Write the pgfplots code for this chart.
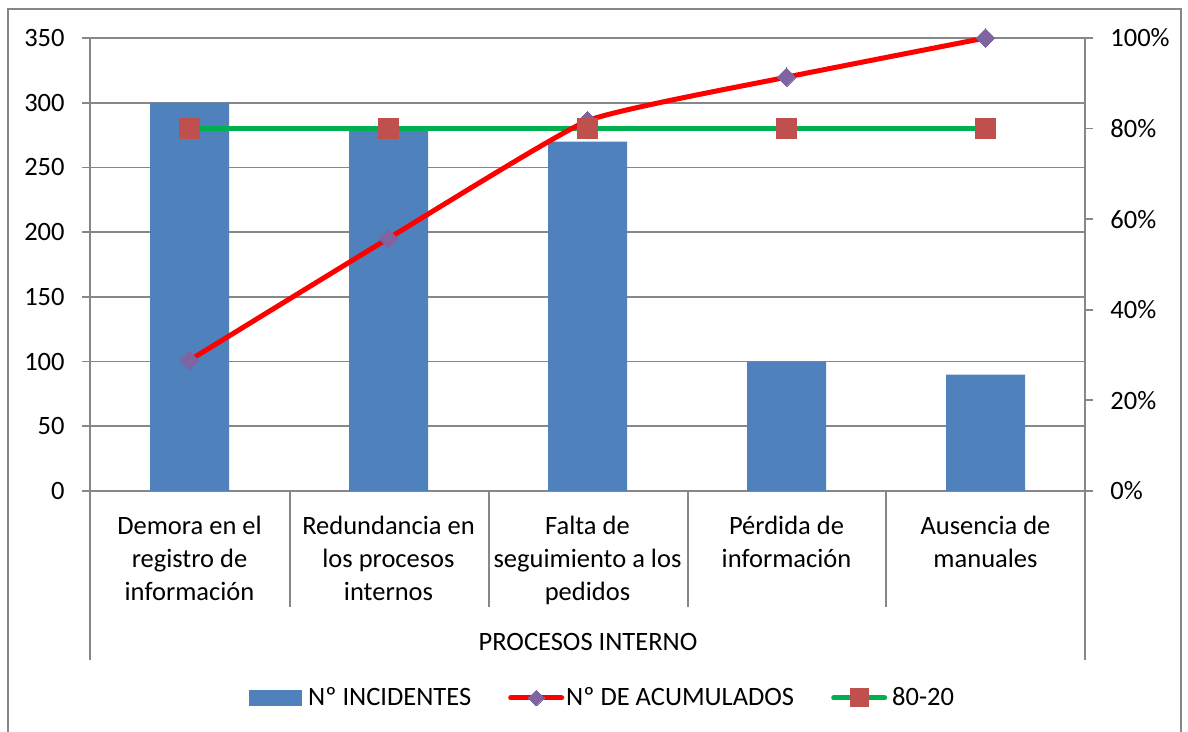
\documentclass[border=0pt]{standalone}
\usepackage{pgfplots}
\pgfplotsset{compat=1.18}
\usepackage{fontspec}
\setmainfont{Carlito}
\definecolor{barblue}{HTML}{4F81BD}
\definecolor{mkred}{HTML}{C0504D}
\definecolor{mkpurple}{HTML}{8064A2}
\definecolor{lngreen}{HTML}{00B050}
\definecolor{gridgray}{HTML}{878787}
\newcommand\cf{\fontsize{13.25}{16.5}\selectfont}
\pgfplotsset{
  linelegend/.style={legend image code/.code={\draw[mark repeat=2,mark phase=2,##1] plot coordinates {(1.25pt,0pt) (14pt,0pt) (26.75pt,0pt)};}},
  barlegend/.style={legend image code/.code={\fill[barblue] (0pt,-3.75pt) rectangle (26pt,3.75pt);}},
}
\begin{document}
\begin{tikzpicture}
\path[use as bounding box] (0,0) rectangle (594pt,366pt);
\begin{axis}[
 at={(45pt,120.5pt)}, anchor=south west,
 scale only axis, width=497.5pt, height=226.5pt,
 xmin=-0.5, xmax=4.5, ymin=0, ymax=350,
 ybar, bar width=39.5pt,
 axis x line*=bottom, axis y line*=left,
 axis line style={gridgray, line width=0.9pt, -},
 xtick=\empty,
 ytick={0,50,...,350},
 ymajorgrids, grid style={gridgray, line width=0.9pt},
 tick align=outside, major tick length=4pt,
 tick style={gridgray, line width=0.9pt},
 yticklabel style={font=\cf, inner sep=0pt, xshift=-8.5pt},
 /pgf/number format/assume math mode=true,
 clip=false,
]
\addplot[fill=barblue, draw=none] coordinates {(0,300) (1,280) (2,270) (3,100) (4,90)};
\node[font=\cf, align=center, anchor=north, inner sep=0pt] at (axis cs:0,0) [yshift=-10pt] {\strut Demora en el\\registro de\\información};
\node[font=\cf, align=center, anchor=north, inner sep=0pt] at (axis cs:1,0) [yshift=-10pt] {\strut Redundancia en\\los procesos\\internos};
\node[font=\cf, align=center, anchor=north, inner sep=0pt] at (axis cs:2,0) [yshift=-10pt] {\strut Falta de\\seguimiento a los\\pedidos};
\node[font=\cf, align=center, anchor=north, inner sep=0pt] at (axis cs:3,0) [yshift=-10pt] {\strut Pérdida de\\información};
\node[font=\cf, align=center, anchor=north, inner sep=0pt] at (axis cs:4,0) [yshift=-10pt] {\strut Ausencia de\\manuales};
\end{axis}
\begin{axis}[
 at={(45pt,120.5pt)}, anchor=south west,
 scale only axis, width=497.5pt, height=226.5pt,
 xmin=-0.5, xmax=4.5, ymin=0, ymax=100,
 axis x line=none, axis y line*=right,
 axis line style={gridgray, line width=0.9pt, -},
 ytick={0,20,...,100}, yticklabels={0\%,20\%,40\%,60\%,80\%,100\%},
 tick align=outside, major tick length=4pt,
 tick style={gridgray, line width=0.9pt},
 yticklabel style={font=\cf, inner sep=0pt, xshift=8.5pt},
 clip=false,
 legend columns=3,
 legend style={at={(0.1598,-0.4569)}, anchor=west, draw=none, fill=none, inner sep=0pt, font=\cf, cells={anchor=west}, nodes={inner sep=0pt},
   /tikz/every odd column/.append style={column sep=3pt},
   /tikz/every even column/.append style={column sep=18.5pt}},
]
\addlegendimage{barlegend}
\addlegendentry{Nº INCIDENTES}
\addlegendimage{red, line width=2.5pt, line cap=round, mark=square*, mark size=2.8pt, mark options={rotate=45, fill=mkpurple, draw=mkpurple, line width=0pt}, linelegend}
\addlegendentry{\hspace{-2pt}Nº DE ACUMULADOS}
\addlegendimage{lngreen, line width=2.5pt, line cap=round, mark=square*, mark size=4.5pt, mark options={fill=mkred, draw=mkred, line width=0pt}, linelegend}
\addlegendentry{\hspace{-0.5pt}80-20}
\addplot[lngreen, line width=2.5pt, no marks, forget plot] coordinates {(0,80) (1,80) (2,80) (3,80) (4,80)};
\addplot[red, line width=2.5pt, smooth, tension=0.25, mark=square*, mark size=3.3pt, mark options={rotate=45, fill=mkpurple, draw=mkpurple, line width=0pt}, forget plot] coordinates {(0,28.85) (1,55.77) (2,81.73) (3,91.35) (4,100)};
\addplot[only marks, mark=square*, mark size=5pt, mark options={fill=mkred, draw=mkred, line width=0pt}, forget plot] coordinates {(0,80) (1,80) (2,80) (3,80) (4,80)};
\end{axis}
\begin{scope}[x=0.5pt, y=-0.5pt, yshift=366pt]
 \draw[gridgray, line width=0.9pt] (8,732) -- (8,9) -- (1181,9) -- (1181,732);
 \foreach \xx in {290,489,688,886} \draw[gridgray, line width=0.9pt] (\xx,491) -- (\xx,607);
 \draw[gridgray, line width=0.9pt] (90,491) -- (90,660);
 \draw[gridgray, line width=0.9pt] (1085,491) -- (1085,660);
 \node[font=\cf, anchor=base, inner sep=0pt] at (588,651) {PROCESOS INTERNO};
\end{scope}
\end{tikzpicture}
\end{document}
